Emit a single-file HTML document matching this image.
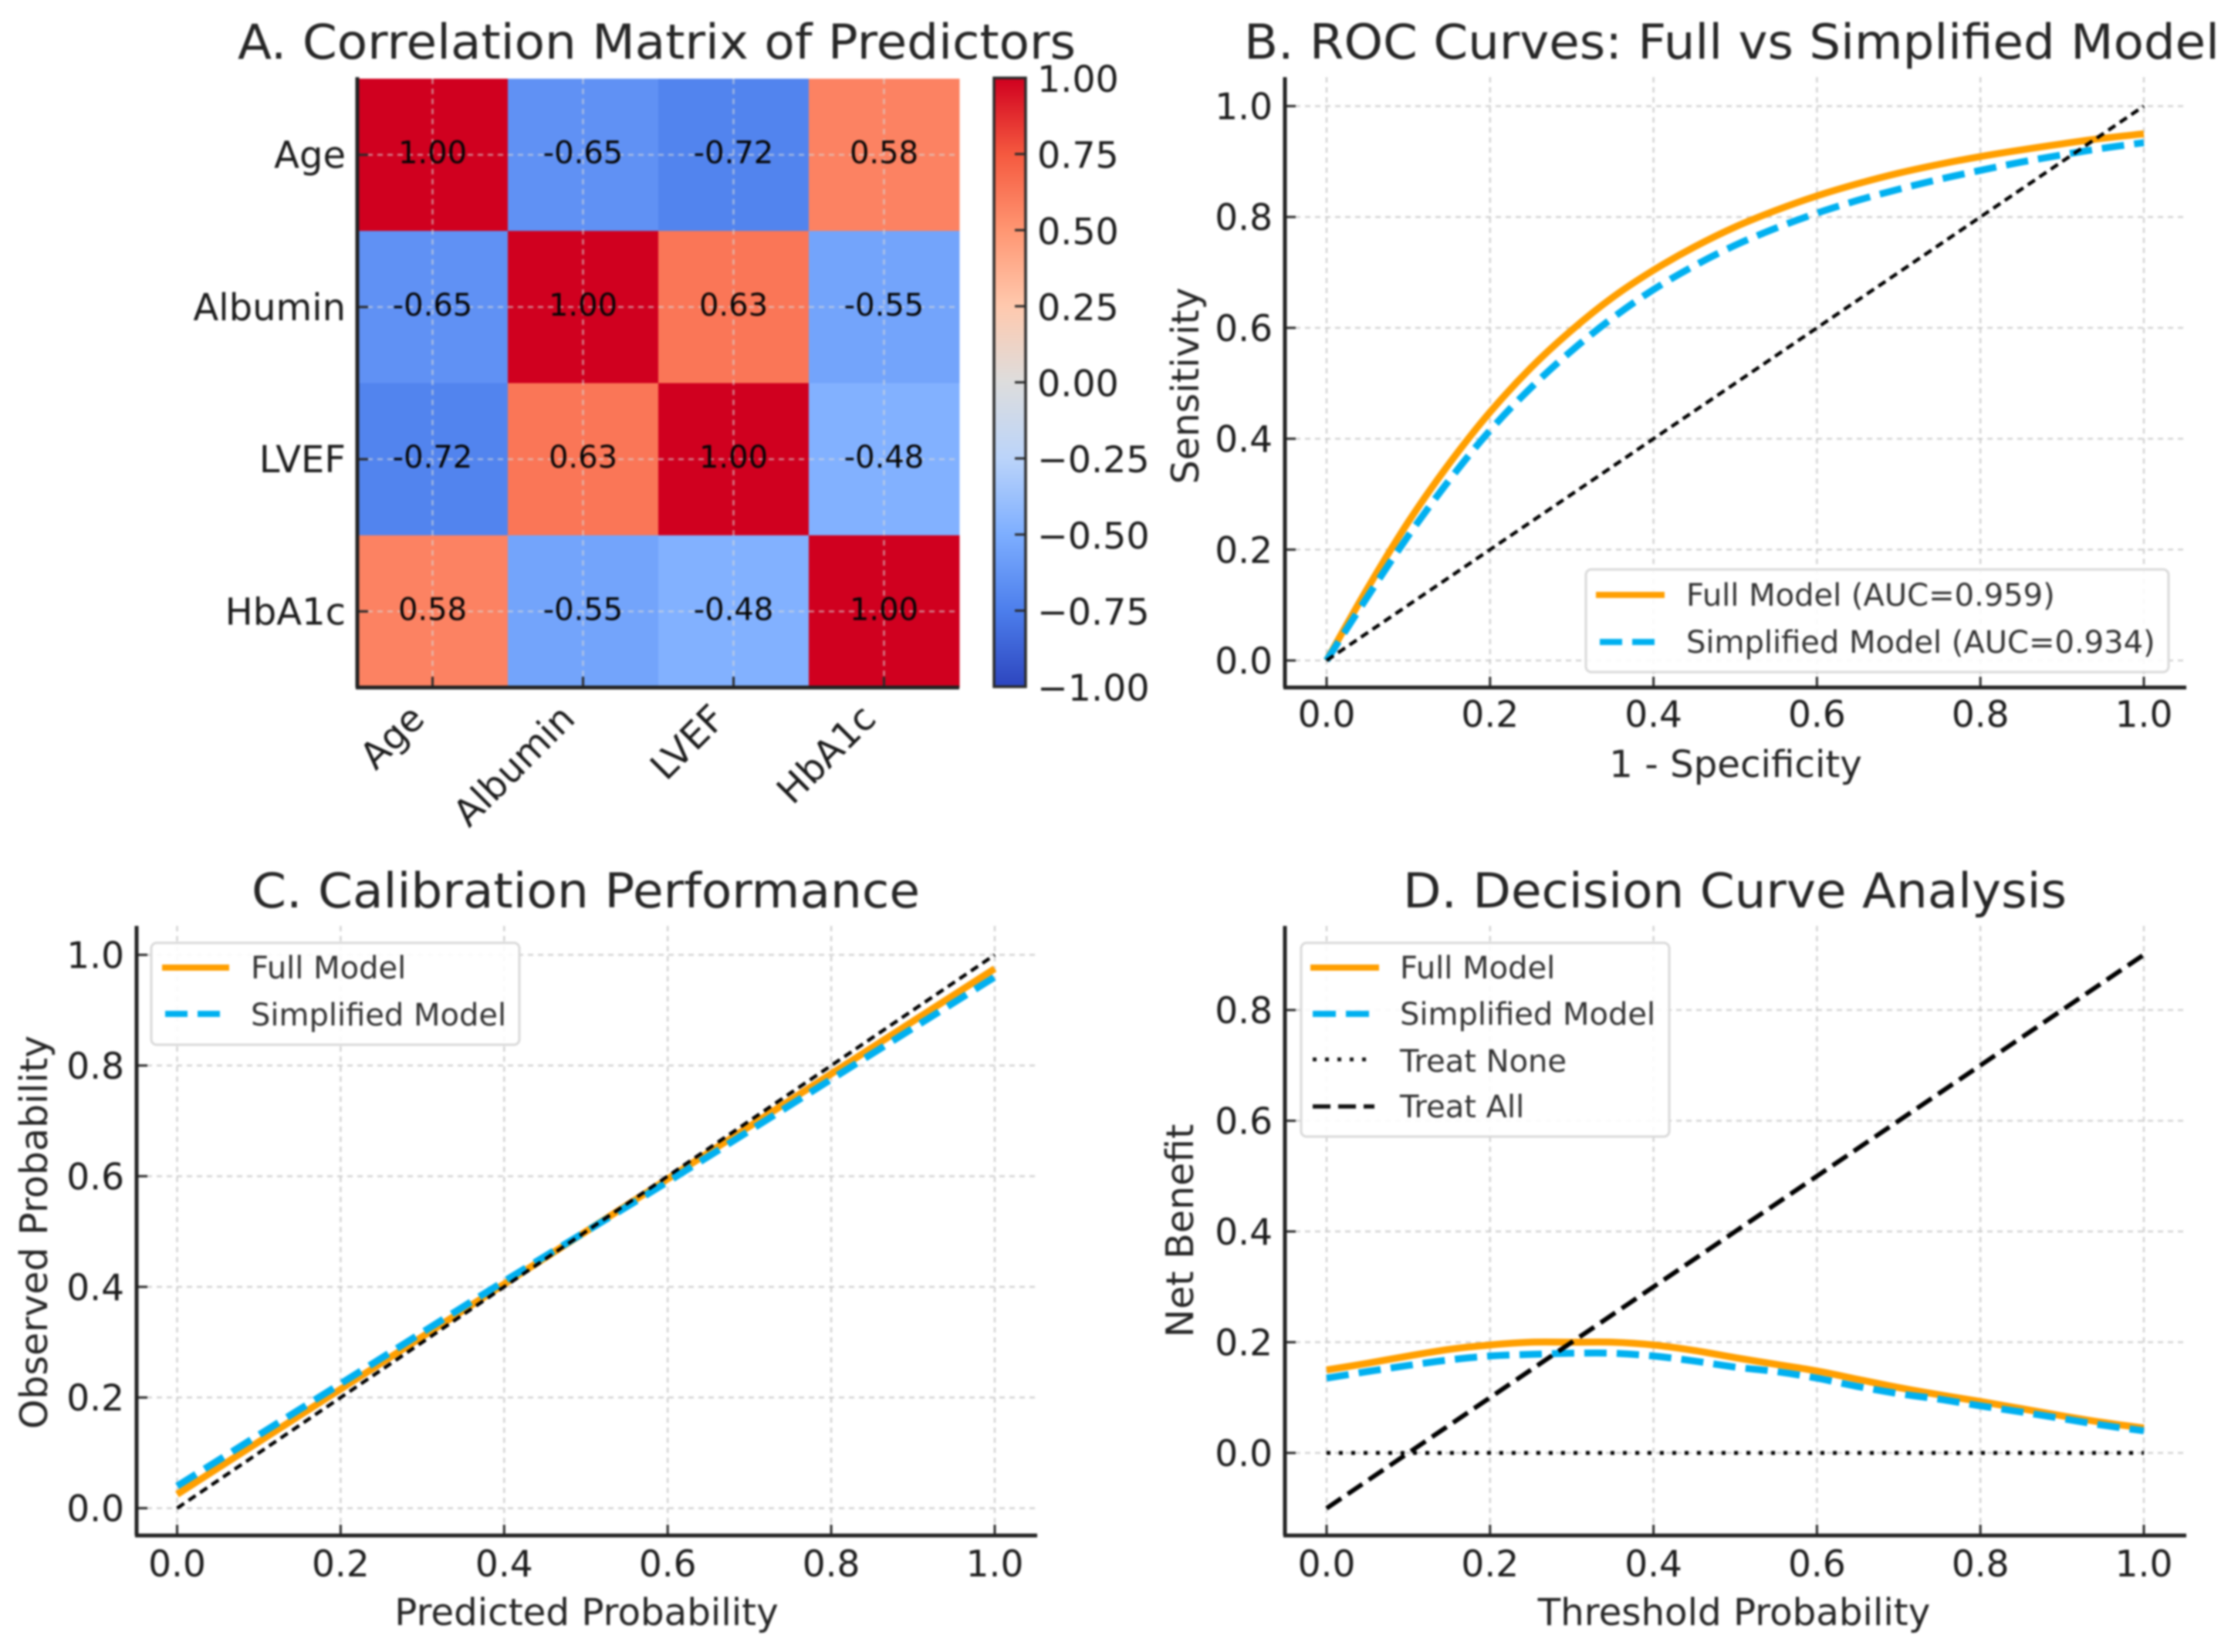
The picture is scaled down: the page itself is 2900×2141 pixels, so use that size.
<!DOCTYPE html>
<html lang="en">
<head>
<meta charset="utf-8">
<title>Model performance figure</title>
<style>
html,body{margin:0;padding:0;background:#fff;width:2900px;height:2141px;overflow:hidden}
svg{display:block;filter:blur(1.2px)}
text{font-family:"DejaVu Sans","Liberation Sans",sans-serif;fill:#1c1c1c}
.title{font-size:62px;fill:#262626;text-anchor:middle}
.axis-label{font-size:48.3px;fill:#262626;text-anchor:middle}
.axis-label-y{font-size:49px;fill:#262626;text-anchor:middle}
.legend-text{font-size:40px;fill:#333}
.legend-box{fill:#fff;fill-opacity:.88;stroke:#d9d9d9;stroke-width:3}
.spine{stroke:#222;stroke-width:5;fill:none}
</style>
</head>
<body>
<svg id="figure" xmlns="http://www.w3.org/2000/svg" width="2900" height="2141" viewBox="0 0 2900 2141">
  <defs>
    <linearGradient id="cb-gradient" x1="0" y1="0" x2="0" y2="1"></linearGradient>
  </defs>
  <rect width="2900" height="2141" fill="#fff"/>

  <g id="panel-a">
    <text class="title" x="851" y="76" textLength="1086" lengthAdjust="spacingAndGlyphs">A. Correlation Matrix of Predictors</text>
    <g id="a-marks"></g>
    <line class="spine" x1="463" y1="100" x2="463" y2="891"/>
    <line class="spine" x1="461" y1="891" x2="1243" y2="891"/>
    <rect x="1288" y="101" width="41" height="789" fill="url(#cb-gradient)"/>
    <g id="cb-ticks"></g>
    <path d="M1288 101V890H1329V101Z" fill="none" stroke="#2a2a2a" stroke-width="3.5"/>
  </g>

  <g id="panel-b">
    <text class="title" x="2244" y="76" textLength="1264" lengthAdjust="spacingAndGlyphs">B. ROC Curves: Full vs Simplified Model</text>
    <g id="b-axes"></g>
    <g id="b-marks"></g>
    <line class="spine" x1="1665" y1="100" x2="1665" y2="891"/>
    <line class="spine" x1="1663" y1="891" x2="2833" y2="891"/>
    <text class="axis-label" x="2249" y="1007">1 - Specificity</text>
    <text class="axis-label-y" transform="translate(1553 500) rotate(-90)">Sensitivity</text>
    <g>
      <rect class="legend-box" x="2055" y="738" width="755" height="133" rx="7"/>
      <line x1="2068" y1="771" x2="2157" y2="771" stroke="#ff9f00" stroke-width="8"/>
      <line x1="2073" y1="832" x2="2144" y2="832" stroke="#00b0f0" stroke-width="8" stroke-dasharray="29 13"/>
      <text class="legend-text" x="2185" y="785">Full Model (AUC=0.959)</text>
      <text class="legend-text" x="2185" y="846">Simplified Model (AUC=0.934)</text>
    </g>
  </g>

  <g id="panel-c">
    <text class="title" x="759" y="1176" textLength="866" lengthAdjust="spacingAndGlyphs">C. Calibration Performance</text>
    <g id="c-axes"></g>
    <g id="c-marks"></g>
    <line class="spine" x1="177" y1="1200" x2="177" y2="1990"/>
    <line class="spine" x1="175" y1="1990" x2="1344" y2="1990"/>
    <text class="axis-label" x="760" y="2106">Predicted Probability</text>
    <text class="axis-label-y" transform="translate(61 1597) rotate(-90)">Observed Probability</text>
    <g>
      <rect class="legend-box" x="196" y="1222" width="477" height="132" rx="7"/>
      <line x1="210" y1="1254" x2="297" y2="1254" stroke="#ff9f00" stroke-width="8"/>
      <line x1="214" y1="1314" x2="286" y2="1314" stroke="#00b0f0" stroke-width="8" stroke-dasharray="29 13"/>
      <text class="legend-text" x="325" y="1268">Full Model</text>
      <text class="legend-text" x="325" y="1329">Simplified Model</text>
    </g>
  </g>

  <g id="panel-d">
    <text class="title" x="2248" y="1176" textLength="860" lengthAdjust="spacingAndGlyphs">D. Decision Curve Analysis</text>
    <g id="d-axes"></g>
    <g id="d-marks"></g>
    <line class="spine" x1="1665" y1="1200" x2="1665" y2="1990"/>
    <line class="spine" x1="1663" y1="1990" x2="2833" y2="1990"/>
    <text class="axis-label" x="2247" y="2106">Threshold Probability</text>
    <text class="axis-label-y" transform="translate(1546 1595) rotate(-90)">Net Benefit</text>
    <g>
      <rect class="legend-box" x="1686" y="1222" width="477" height="251" rx="7"/>
      <line x1="1698" y1="1254" x2="1787" y2="1254" stroke="#ff9f00" stroke-width="8"/>
      <line x1="1701" y1="1314" x2="1775" y2="1314" stroke="#00b0f0" stroke-width="8" stroke-dasharray="30 13"/>
      <line x1="1701" y1="1373" x2="1775" y2="1373" stroke="#111" stroke-width="5" stroke-dasharray="5 11"/>
      <line x1="1701" y1="1434" x2="1781" y2="1434" stroke="#111" stroke-width="5.5" stroke-dasharray="23 10"/>
      <text class="legend-text" x="1814" y="1268">Full Model</text>
      <text class="legend-text" x="1814" y="1328">Simplified Model</text>
      <text class="legend-text" x="1814" y="1389">Treat None</text>
      <text class="legend-text" x="1814" y="1448">Treat All</text>
    </g>
  </g>
</svg>

<script>
// ---------- Data ----------
const predictors = ['Age', 'Albumin', 'LVEF', 'HbA1c'];
const corrAge = [1.00, -0.65, -0.72, 0.58];
const corrAlbumin = [-0.65, 1.00, 0.63, -0.55];
const corrLvef = [-0.72, 0.63, 1.00, -0.48];
const corrHba1c = [0.58, -0.55, -0.48, 1.00];
const colorbarTicks = [1, 0.75, 0.5, 0.25, 0, -0.25, -0.5, -0.75, -1];

const probTicks = [0, 0.2, 0.4, 0.6, 0.8, 1];
const netBenefitTicks = [0, 0.2, 0.4, 0.6, 0.8];

const curveX = [0, 0.05, 0.1, 0.15, 0.2, 0.25, 0.3, 0.35, 0.4, 0.45, 0.5, 0.55, 0.6, 0.65, 0.7, 0.75, 0.8, 0.85, 0.9, 0.95, 1];
const rocFull = [0, 0.13, 0.25, 0.355, 0.448, 0.528, 0.596, 0.655, 0.704, 0.746, 0.782, 0.812, 0.838, 0.86, 0.879, 0.895, 0.909, 0.921, 0.932, 0.942, 0.95];
const rocSimplified = [0, 0.115, 0.225, 0.325, 0.415, 0.492, 0.559, 0.618, 0.669, 0.712, 0.749, 0.78, 0.807, 0.83, 0.85, 0.868, 0.884, 0.899, 0.912, 0.924, 0.934];
const referenceX = [0, 1];
const referenceY = [0, 1];

const calibrationX = [0, 0.2, 0.4, 0.6, 0.8, 1];
const calibrationFull = [0.025, 0.215, 0.405, 0.595, 0.785, 0.975];
const calibrationSimplified = [0.04, 0.225, 0.41, 0.59, 0.775, 0.96];

const dcaFull = [0.15, 0.162, 0.175, 0.187, 0.195, 0.2, 0.2, 0.2, 0.195, 0.185, 0.172, 0.16, 0.148, 0.133, 0.118, 0.105, 0.093, 0.08, 0.067, 0.055, 0.045];
const dcaSimplified = [0.135, 0.147, 0.158, 0.168, 0.175, 0.178, 0.18, 0.18, 0.175, 0.166, 0.155, 0.147, 0.135, 0.12, 0.107, 0.097, 0.085, 0.074, 0.062, 0.05, 0.04];
const treatNoneY = [0, 0];
const treatAllY = [-0.1, 0.9];

// ---------- Helpers ----------
const NS = 'http://www.w3.org/2000/svg';
function mk(tag, attrs, parent) {
  const node = document.createElementNS(NS, tag);
  for (const k in attrs) node.setAttribute(k, attrs[k]);
  parent.appendChild(node);
  return node;
}
const linear = (d0, d1, r0, r1) => v => r0 + (v - d0) / (d1 - d0) * (r1 - r0);
// Catmull-Rom through the data points, so sampled curves read as smooth lines
function pathFrom(xs, ys, sx, sy) {
  const p = xs.map((x, i) => [sx(x), sy(ys[i])]);
  let d = 'M' + p[0][0].toFixed(1) + ' ' + p[0][1].toFixed(1);
  for (let i = 0; i < p.length - 1; i++) {
    const a = p[Math.max(i - 1, 0)];
    const b = p[i];
    const c = p[i + 1];
    const e = p[Math.min(i + 2, p.length - 1)];
    const c1x = b[0] + (c[0] - a[0]) / 6;
    const c1y = b[1] + (c[1] - a[1]) / 6;
    const c2x = c[0] - (e[0] - b[0]) / 6;
    const c2y = c[1] - (e[1] - b[1]) / 6;
    d += 'C' + [c1x, c1y, c2x, c2y, c[0], c[1]].map(n => n.toFixed(1)).join(' ');
  }
  return d;
}
const GRID = { stroke: '#c4c4c4', 'stroke-width': 2.5, 'stroke-dasharray': '7 6', 'stroke-opacity': 0.75 };

// Colour scale stops (value -> colour)
const scaleValues = [-1, -0.75, -0.5, -0.25, 0, 0.25, 0.5, 0.75, 1];
const scaleColors = ['#2d45be', '#4c7eec', '#7daeff', '#bbd4fa', '#dddddd', '#ffc9ae', '#ff9672', '#f5593f', '#d0001f'];
function colorFor(v) {
  let i = 0;
  while (i < scaleValues.length - 2 && v > scaleValues[i + 1]) i++;
  const t = (v - scaleValues[i]) / (scaleValues[i + 1] - scaleValues[i]);
  const hex = c => [1, 3, 5].map(p => parseInt(c.substr(p, 2), 16));
  const a = hex(scaleColors[i]);
  const b = hex(scaleColors[i + 1]);
  return 'rgb(' + a.map((c, k) => Math.round(c + (b[k] - c) * t)).join(',') + ')';
}

function drawAxes(group, sx, sy, xTicks, yTicks, box, labelX, labelBaseline) {
  xTicks.forEach(t => {
    const grid = mk('line', Object.assign({ x1: sx(t), x2: sx(t), y1: box.top, y2: box.bottom }, GRID), group);
    
    
    const tick = mk('line', { x1: sx(t), x2: sx(t), y1: box.bottom - 14, y2: box.bottom, stroke: '#2a2a2a', 'stroke-width': 3 }, group);
    
    
    const label = mk('text', { x: sx(t), y: labelBaseline, 'text-anchor': 'middle', 'font-size': 47 }, group);
    
    
    label.textContent = t.toFixed(1);
  });
  yTicks.forEach(t => {
    const grid = mk('line', Object.assign({ x1: box.left, x2: box.right, y1: sy(t), y2: sy(t) }, GRID), group);
    
    
    const tick = mk('line', { x1: box.left, x2: box.left + 14, y1: sy(t), y2: sy(t), stroke: '#2a2a2a', 'stroke-width': 3 }, group);
    
    
    const label = mk('text', { x: labelX, y: sy(t) + 17, 'text-anchor': 'end', 'font-size': 47 }, group);
    
    
    label.textContent = t.toFixed(1);
  });
}

function drawFull(group, xs, ys, sx, sy) {
  const line = mk('path', { d: pathFrom(xs, ys, sx, sy), fill: 'none', stroke: '#ff9f00', 'stroke-width': 9, 'stroke-linejoin': 'round' }, group);
  
  
}
function drawSimplified(group, xs, ys, sx, sy) {
  const line = mk('path', { d: pathFrom(xs, ys, sx, sy), fill: 'none', stroke: '#00b0f0', 'stroke-width': 9, 'stroke-dasharray': '29 13', 'stroke-linejoin': 'round' }, group);
  
  
}
function drawReference(group, sx, sy) {
  const line = mk('path', { d: pathFrom(referenceX, referenceY, sx, sy), fill: 'none', stroke: '#000', 'stroke-width': 4.5, 'stroke-dasharray': '11 7' }, group);
  
  
}

// ---------- Panel A ----------
(function () {
  const group = document.getElementById('a-marks');
  const rows = [corrAge, corrAlbumin, corrLvef, corrHba1c];
  const bandX = linear(0, 4, 463, 1243);
  const bandY = linear(0, 4, 102, 891);
  rows.forEach((row, r) => row.forEach((v, c) => {
    const cell = mk('rect', { x: bandX(c), y: bandY(r), width: bandX(c + 1) - bandX(c) + 0.5, height: bandY(r + 1) - bandY(r) + 0.5, fill: colorFor(v) }, group);
    
    
  }));
  predictors.forEach((name, i) => {
    const cx = bandX(i + 0.5);
    const cy = bandY(i + 0.5);
    const gridV = mk('line', { x1: cx, x2: cx, y1: 102, y2: 891, stroke: '#d8d8d8', 'stroke-width': 2.5, 'stroke-dasharray': '7 6', 'stroke-opacity': 0.6 }, group);
    
    
    const gridH = mk('line', { x1: 463, x2: 1243, y1: cy, y2: cy, stroke: '#d8d8d8', 'stroke-width': 2.5, 'stroke-dasharray': '7 6', 'stroke-opacity': 0.6 }, group);
    
    
    const tickX = mk('line', { x1: cx, x2: cx, y1: 877, y2: 891, stroke: '#2a2a2a', 'stroke-width': 3 }, group);
    
    
    const tickY = mk('line', { x1: 463, x2: 477, y1: cy, y2: cy, stroke: '#2a2a2a', 'stroke-width': 3 }, group);
    
    
    const yLabel = mk('text', { x: 448, y: cy + 17, 'text-anchor': 'end', 'font-size': 48 }, group);
    
    
    yLabel.textContent = name;
    const px = cx - 8;
    const py = 934;
    const xLabel = mk('text', { x: px, y: py, 'text-anchor': 'end', 'font-size': 48, transform: 'rotate(-45 ' + px + ' ' + py + ')' }, group);
    
    
    xLabel.textContent = name;
  });
  rows.forEach((row, r) => row.forEach((v, c) => {
    const note = mk('text', { x: bandX(c + 0.5), y: bandY(r + 0.5) + 11, 'text-anchor': 'middle', 'font-size': 40, style: 'fill:#050505' }, group);
    
    
    note.textContent = v.toFixed(2);
  }));

  // Colorbar
  const gradient = document.getElementById('cb-gradient');
  for (let i = scaleValues.length - 1; i >= 0; i--) {
    mk('stop', { offset: (1 - scaleValues[i]) / 2, 'stop-color': scaleColors[i] }, gradient);
  }
  const cbY = linear(1, -1, 101, 890);
  const ticks = document.getElementById('cb-ticks');
  colorbarTicks.forEach(t => {
    const tick = mk('line', { x1: 1315, x2: 1329, y1: cbY(t), y2: cbY(t), stroke: '#2a2a2a', 'stroke-width': 3 }, ticks);
    
    
    const label = mk('text', { x: 1344, y: cbY(t) + 18, 'font-size': 47.5 }, ticks);
    
    
    label.textContent = (t < 0 ? '\u2212' : '') + Math.abs(t).toFixed(2);
  });
})();

// ---------- Panel B ----------
(function () {
  const sx = linear(0, 1, 1719, 2778);
  const sy = linear(0, 1, 856, 137.5);
  const box = { left: 1665, right: 2833, top: 100, bottom: 891 };
  drawAxes(document.getElementById('b-axes'), sx, sy, probTicks, probTicks, box, 1649, 942);
  const marks = document.getElementById('b-marks');
  drawFull(marks, curveX, rocFull, sx, sy);
  drawSimplified(marks, curveX, rocSimplified, sx, sy);
  drawReference(marks, sx, sy);
})();

// ---------- Panel C ----------
(function () {
  const sx = linear(0, 1, 229.5, 1289);
  const sy = linear(0, 1, 1954.6, 1237.5);
  const box = { left: 177, right: 1344, top: 1200, bottom: 1990 };
  drawAxes(document.getElementById('c-axes'), sx, sy, probTicks, probTicks, box, 161, 2043);
  const marks = document.getElementById('c-marks');
  drawFull(marks, calibrationX, calibrationFull, sx, sy);
  drawSimplified(marks, calibrationX, calibrationSimplified, sx, sy);
  drawReference(marks, sx, sy);
})();

// ---------- Panel D ----------
(function () {
  const sx = linear(0, 1, 1719, 2778);
  const sy = linear(0, 0.8, 1883, 1309);
  const box = { left: 1665, right: 2833, top: 1200, bottom: 1990 };
  drawAxes(document.getElementById('d-axes'), sx, sy, probTicks, netBenefitTicks, box, 1649, 2043);
  const marks = document.getElementById('d-marks');
  drawFull(marks, curveX, dcaFull, sx, sy);
  drawSimplified(marks, curveX, dcaSimplified, sx, sy);
  const none = mk('path', { d: pathFrom(referenceX, treatNoneY, sx, sy), fill: 'none', stroke: '#000', 'stroke-width': 5, 'stroke-dasharray': '5 11' }, marks);
  
  
  const all = mk('path', { d: pathFrom(referenceX, treatAllY, sx, sy), fill: 'none', stroke: '#000', 'stroke-width': 6, 'stroke-dasharray': '23 10' }, marks);
  
  
})();
</script>
</body>
</html>
